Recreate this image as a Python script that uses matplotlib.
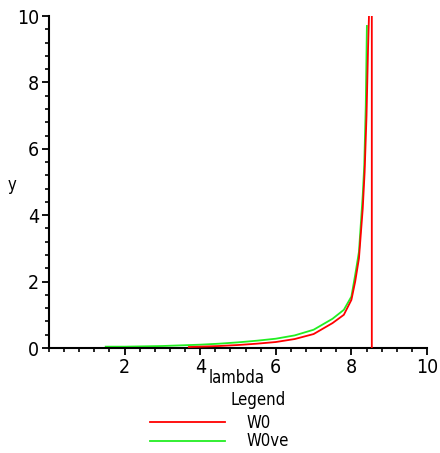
import matplotlib.pyplot as plt

plt.rcParams['font.family'] = ['DejaVu Sans']
plt.rcParams['font.stretch'] = 'condensed'

# W0 curve (red) - includes the vertical jump drawn at the pole
w0_x = [3.7, 4.0, 4.5, 5.0, 5.5, 6.0, 6.5, 7.0, 7.5, 7.8, 8.0, 8.1, 8.2, 8.3, 8.35, 8.4, 8.44, 8.47, 8.49, 8.54, 8.54]
w0_y = [0.03, 0.04, 0.06, 0.09, 0.13, 0.18, 0.27, 0.42, 0.75, 1.0, 1.45, 2.0, 2.7, 4.2, 5.3, 7.0, 9.0, 10.2, 11, 11, -1]

# W0ve curve (green)
w0ve_x = [1.5, 2.0, 2.5, 3.0, 3.5, 4.0, 4.5, 5.0, 5.5, 6.0, 6.5, 7.0, 7.5, 7.8, 8.0, 8.1, 8.2, 8.3, 8.34, 8.38, 8.41]
w0ve_y = [0.04, 0.04, 0.05, 0.06, 0.08, 0.10, 0.13, 0.17, 0.22, 0.28, 0.38, 0.55, 0.88, 1.15, 1.55, 2.2, 2.9, 4.6, 5.5, 7.3, 9.7]

x_ticks = [2, 4, 6, 8, 10]
y_ticks = [0, 2, 4, 6, 8, 10]

fig = plt.figure(figsize=(4.4, 4.53), dpi=100)
ax = fig.add_axes([49/440, 105/453, 378/440, 332/453])

ax.plot(w0_x, w0_y, color='#ff0000', lw=1.3, label='W0', zorder=3)
ax.plot(w0ve_x, w0ve_y, color='#22ee22', lw=1.3, label='W0ve', zorder=2)

ax.set_xlim(0, 10)
ax.set_ylim(0, 10)
ax.spines['top'].set_visible(False)
ax.spines['right'].set_visible(False)
ax.spines['left'].set_linewidth(1.5)
ax.spines['bottom'].set_linewidth(1.5)

ax.set_xticks(x_ticks)
ax.set_yticks(y_ticks)
ax.set_xticks([i * 0.4 for i in range(26)], minor=True)
ax.set_yticks([i * 0.4 for i in range(26)], minor=True)
ax.tick_params(which='major', length=5, width=1.3, labelsize=14, pad=2)
ax.tick_params(which='minor', length=3, width=1.2)

fig.text(12/440, 1 - 185/453, 'y', fontsize=12, ha='center', va='center')
fig.text(237/440, 1 - 378/453, 'lambda', fontsize=12, ha='center', va='center')
fig.text(258/440, 1 - 400/453, 'Legend', fontsize=12, ha='center', va='center')

leg = fig.legend(loc='center left', bbox_to_anchor=(150/440, 1 - 432/453), frameon=False,
                 fontsize=12, handlelength=4.5, handletextpad=1.3,
                 labelspacing=0.05, borderpad=0, borderaxespad=0)

fig.savefig('out.png', dpi=100)
